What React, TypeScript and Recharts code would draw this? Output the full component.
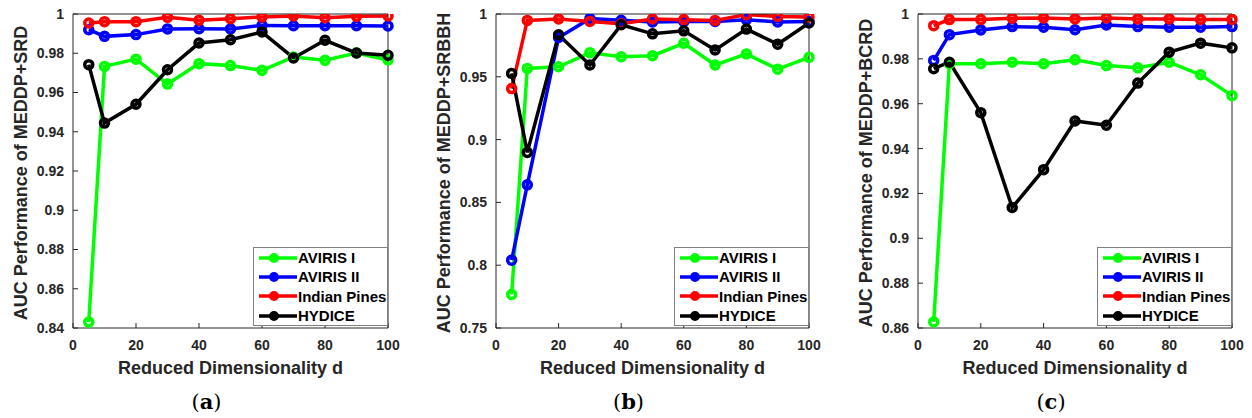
import { LineChart, Line, XAxis, YAxis, Legend } from "recharts";

const dims = [5, 10, 20, 30, 40, 50, 60, 70, 80, 90, 100];
const seriesNames = ["AVIRIS I", "AVIRIS II", "Indian Pines", "HYDICE"];
const seriesKeys = ["aviris1", "aviris2", "indian", "hydice"];
const COLORS = ["#00ff00", "#0000ff", "#ff0000", "#000000"];

// (a) MEDDP+SRD
const srdAviris1 = [0.843, 0.9733, 0.977, 0.9643, 0.9747, 0.9737, 0.9713, 0.9781, 0.9764, 0.9801, 0.9766];
const srdAviris2 = [0.992, 0.9886, 0.9895, 0.9924, 0.9925, 0.9924, 0.9942, 0.994, 0.994, 0.994, 0.9939];
const srdIndian = [0.9954, 0.9961, 0.9961, 0.9983, 0.9968, 0.9976, 0.9985, 0.999, 0.9981, 0.9988, 0.999];
const srdHydice = [0.9742, 0.9444, 0.954, 0.9716, 0.9852, 0.9869, 0.9908, 0.9776, 0.9866, 0.9801, 0.979];

// (b) MEDDP+SRBBH
const srbbhAviris1 = [0.7767, 0.9567, 0.958, 0.9692, 0.966, 0.9668, 0.9767, 0.9594, 0.9682, 0.9561, 0.9655];
const srbbhAviris2 = [0.804, 0.864, 0.9813, 0.9963, 0.995, 0.9936, 0.994, 0.994, 0.9955, 0.9936, 0.994];
const srbbhIndian = [0.9406, 0.9949, 0.996, 0.9941, 0.9922, 0.996, 0.9955, 0.9949, 0.9995, 0.998, 0.9976];
const srbbhHydice = [0.9527, 0.8898, 0.9834, 0.9594, 0.9914, 0.9842, 0.9866, 0.9714, 0.988, 0.976, 0.9928];

// (c) MEDDP+BCRD
const bcrdAviris1 = [0.8627, 0.9778, 0.9778, 0.9785, 0.9778, 0.9796, 0.977, 0.976, 0.9785, 0.9729, 0.9636];
const bcrdAviris2 = [0.9793, 0.9908, 0.9929, 0.9944, 0.9941, 0.993, 0.9951, 0.9944, 0.9941, 0.9941, 0.9944];
const bcrdIndian = [0.9948, 0.9975, 0.9975, 0.9981, 0.9982, 0.9978, 0.9982, 0.9978, 0.9978, 0.9976, 0.9976];
const bcrdHydice = [0.9756, 0.9785, 0.956, 0.9137, 0.9306, 0.9523, 0.9504, 0.9692, 0.983, 0.987, 0.9849];

const xTicks = [0, 20, 40, 60, 80, 100];
const yTicksA = [0.84, 0.86, 0.88, 0.9, 0.92, 0.94, 0.96, 0.98, 1];
const yTicksB = [0.75, 0.8, 0.85, 0.9, 0.95, 1];
const yTicksC = [0.86, 0.88, 0.9, 0.92, 0.94, 0.96, 0.98, 1];

const AXIS = "#262626";
const FONT = "'Liberation Sans', Arial, sans-serif";

function buildRows(series: number[][]) {
  return dims.map((d, i) => {
    const row: Record<string, number> = { d };
    seriesKeys.forEach((k, j) => {
      row[k] = series[j][i];
    });
    return row;
  });
}

const panels = [
  {
    id: "a",
    yLabel: "AUC Performance of MEDDP+SRD",
    rows: buildRows([srdAviris1, srdAviris2, srdIndian, srdHydice]),
    yTicks: yTicksA,
    chartLeft: 0,
    plotLeft: 73,
    plotRight: 388,
    yLabelX: 21,
  },
  {
    id: "b",
    yLabel: "AUC Performance of MEDDP+SRBBH",
    rows: buildRows([srbbhAviris1, srbbhAviris2, srbbhIndian, srbbhHydice]),
    yTicks: yTicksB,
    chartLeft: 420,
    plotLeft: 496,
    plotRight: 809,
    yLabelX: 444,
  },
  {
    id: "c",
    yLabel: "AUC Performance of MEDDP+BCRD",
    rows: buildRows([bcrdAviris1, bcrdAviris2, bcrdIndian, bcrdHydice]),
    yTicks: yTicksC,
    chartLeft: 840,
    plotLeft: 918,
    plotRight: 1232,
    yLabelX: 866,
  },
];

const PLOT_TOP = 14;
const PLOT_BOTTOM = 328;
const HEIGHT = 418;

const fmt = (v: number) => String(parseFloat(v.toFixed(2)));

const renderLegend = (props: any) => {
  // keep plot order, not alphabetical
  const payload = [...(props.payload || [])].sort(
    (a: any, b: any) => seriesNames.indexOf(a.value) - seriesNames.indexOf(b.value)
  );
  return (
    <div
      style={{
        border: "1px solid #808080",
        background: "#fff",
        width: 135,
        height: 79,
        boxSizing: "border-box",
      }}
    >
      {payload.map((p: any) => (
        <div key={p.value} style={{ display: "flex", alignItems: "center", height: 19.3 }}>
          <svg width={44} height={12} style={{ flex: "none" }}>
            <line x1={5} x2={43} y1={6} y2={6} stroke={p.color} strokeWidth={3.5} />
            <circle cx={20} cy={6} r={4} fill={p.color} stroke={p.color} strokeWidth={2} />
          </svg>
          <span style={{ font: `bold 15px ${FONT}`, color: "#000", whiteSpace: "nowrap" }}>{p.value}</span>
        </div>
      ))}
    </div>
  );
};

function Panel({ p }: { p: (typeof panels)[number] }) {
  const width = p.plotRight - p.chartLeft + 12;
  const yDomain = [p.yTicks[0], p.yTicks[p.yTicks.length - 1]];
  const tickStyle = { fill: AXIS, fontSize: 14, fontWeight: "bold", fontFamily: FONT };
  return (
    <div style={{ position: "absolute", left: p.chartLeft, top: 0 }}>
      <LineChart
        width={width}
        height={HEIGHT}
        data={p.rows}
        margin={{ top: PLOT_TOP - 1, left: p.plotLeft - p.chartLeft - 50, right: 11, bottom: HEIGHT - PLOT_BOTTOM - 30 }}
      >
        <XAxis
          dataKey="d"
          type="number"
          domain={[0, 100]}
          ticks={xTicks}
          height={30}
          tickSize={-5}
          tickMargin={17}
          tick={tickStyle}
          axisLine={{ stroke: AXIS }}
          tickLine={{ stroke: AXIS }}
        />
        <XAxis
          xAxisId="top"
          orientation="top"
          dataKey="d"
          type="number"
          domain={[0, 100]}
          ticks={xTicks}
          height={1}
          tickSize={-5}
          tick={false}
          axisLine={{ stroke: AXIS }}
          tickLine={{ stroke: AXIS }}
        />
        <YAxis
          type="number"
          domain={yDomain}
          ticks={p.yTicks}
          width={50}
          tickSize={-5}
          tickMargin={14}
          tickFormatter={fmt}
          tick={tickStyle}
          axisLine={{ stroke: AXIS }}
          tickLine={{ stroke: AXIS }}
          allowDataOverflow
        />
        <YAxis
          yAxisId="right"
          orientation="right"
          type="number"
          domain={yDomain}
          ticks={p.yTicks}
          width={1}
          tickSize={-5}
          tick={false}
          axisLine={{ stroke: AXIS }}
          tickLine={{ stroke: AXIS }}
          allowDataOverflow
        />
        {seriesKeys.map((k, i) => (
          <Line
            key={k}
            dataKey={k}
            name={seriesNames[i]}
            stroke={COLORS[i]}
            strokeWidth={3.5}
            dot={{ r: 4, fill: "none", stroke: COLORS[i], strokeWidth: 3.5 }}
            activeDot={false}
            isAnimationActive={false}
            type="linear"
          />
        ))}
        <Legend
          layout="vertical"
          align="center"
          verticalAlign="middle"
          itemSorter={null}
          content={renderLegend}
          wrapperStyle={{ left: p.plotRight - p.chartLeft - 135, top: PLOT_BOTTOM - 81, width: 135 }}
        />
      </LineChart>
    </div>
  );
}

export default function App() {
  return (
    <div style={{ position: "absolute", left: 0, top: 0, width: 1252, height: HEIGHT, background: "#fff", overflow: "hidden" }}>
      {panels.map((p) => {
        const cx = (p.plotLeft + p.plotRight) / 2;
        const cy = (PLOT_TOP + PLOT_BOTTOM) / 2 + 2;
        return (
          <div key={p.id}>
            <Panel p={p} />
            <div
              style={{
                position: "absolute",
                left: p.yLabelX,
                top: cy,
                transform: "translate(-50%, -50%) rotate(-90deg)",
                font: `bold 18px ${FONT}`,
                color: AXIS,
                whiteSpace: "nowrap",
              }}
            >
              {p.yLabel}
            </div>
            <div
              style={{
                position: "absolute",
                left: cx,
                top: 368,
                transform: "translate(-50%, -50%)",
                font: `bold 18px ${FONT}`,
                color: AXIS,
                whiteSpace: "nowrap",
              }}
            >
              Reduced Dimensionality d
            </div>
            <div
              style={{
                position: "absolute",
                left: cx - 24,
                top: 401,
                transform: "translate(-50%, -50%)",
                font: `21px 'DejaVu Serif', 'Liberation Serif', serif`,
                color: "#000",
                whiteSpace: "nowrap",
              }}
            >
              (<b>{p.id}</b>)
            </div>
          </div>
        );
      })}
    </div>
  );
}
